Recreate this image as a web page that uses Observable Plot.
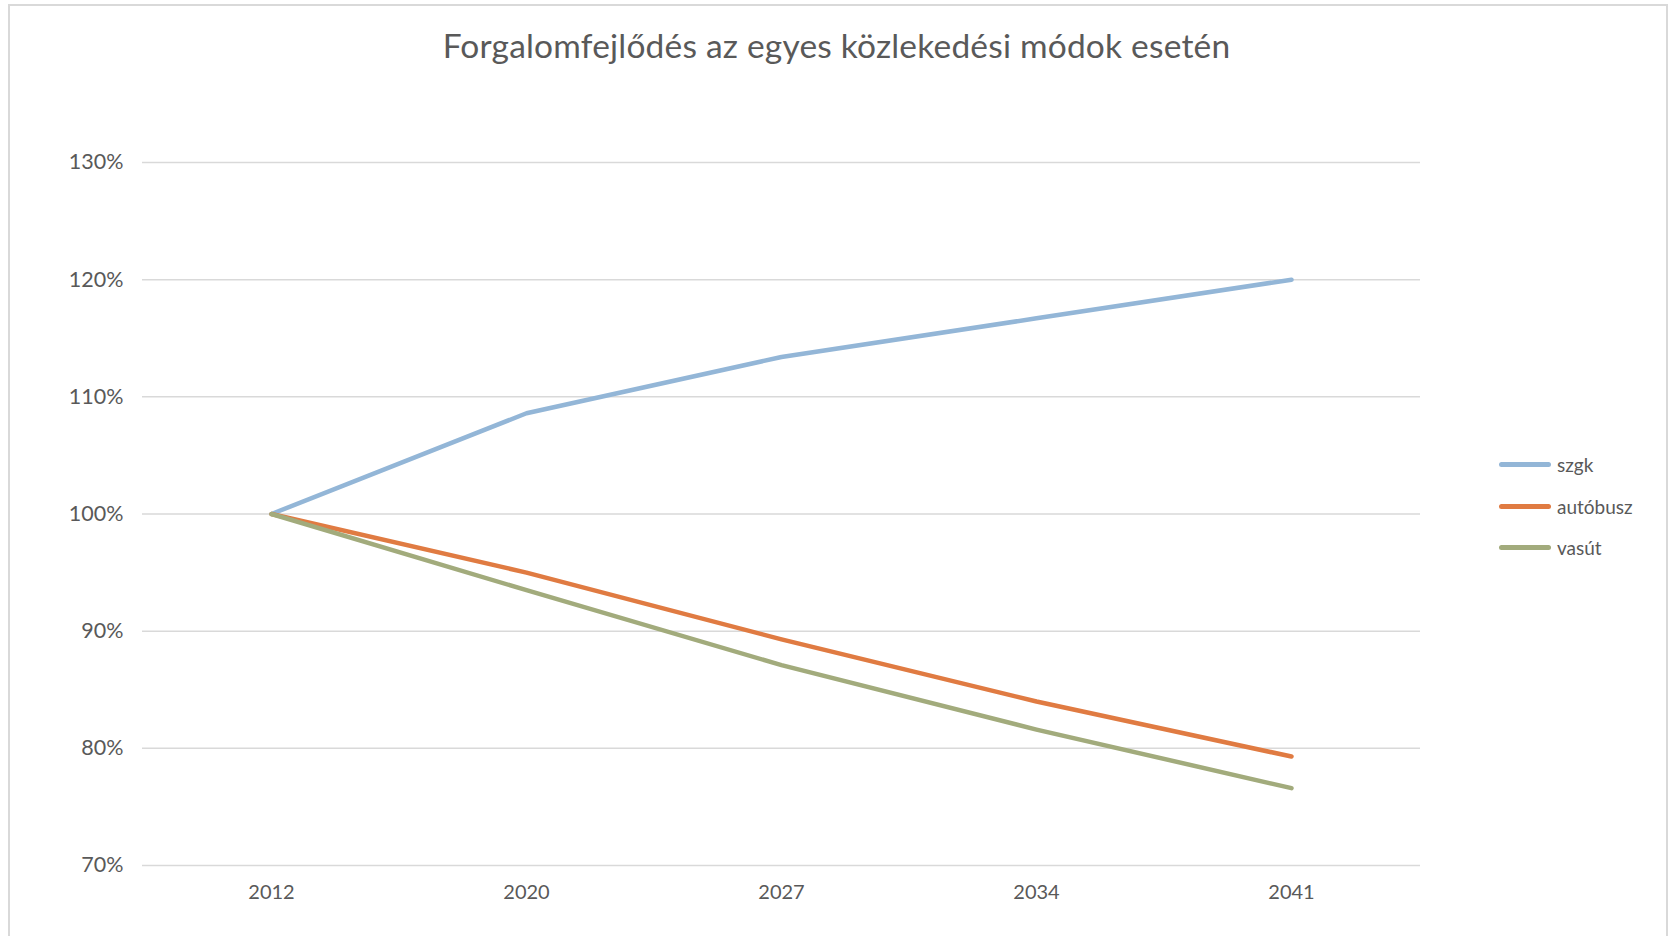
<!DOCTYPE html>
<html>
<head>
<meta charset="utf-8">
<script src="https://cdn.jsdelivr.net/npm/d3@7"></script>
<script src="https://cdn.jsdelivr.net/npm/@observablehq/plot@0.6"></script>
<style>
  html, body { margin: 0; padding: 0; background: #fff; }
  body { width: 1673px; height: 936px; overflow: hidden; position: relative; font-family: Lato, "Open Sans", sans-serif; }
  #frame { position: absolute; left: 8px; top: 4px; width: 1660px; height: 1000px; border: 2px solid #D9D9D9; box-sizing: border-box; }
  #title { position: absolute; left: 0; top: 25px; width: 1673px; text-align: center; font-size: 33.5px; color: #595959; letter-spacing: 0.2px; }
  #chart { position: absolute; left: 0; top: 100px; }
  #legend { position: absolute; left: 1499px; top: 444px; font-size: 19px; color: #595959; }
  .item { display: flex; align-items: center; height: 41.5px; }
  .sw { width: 52px; height: 5px; border-radius: 3px; margin-right: 6px; }
</style>
</head>
<body>
<div id="frame"></div>
<div id="title">Forgalomfejlődés az egyes közlekedési módok esetén</div>
<div id="chart"></div>
<div id="legend"></div>
<script>
const years = ["2012", "2020", "2027", "2034", "2041"];
const szgk = [100, 108.6, 113.4, 116.7, 120.0];
const autobusz = [100, 95.0, 89.3, 84.0, 79.3];
const vasut = [100, 93.5, 87.1, 81.6, 76.6];
const seriesNames = ["szgk", "autóbusz", "vasút"];
const seriesColors = ["#93B6D7", "#E07B42", "#A2AB7C"];
const yTicks = [70, 80, 90, 100, 110, 120, 130];

const seriesValues = [szgk, autobusz, vasut];
const data = [];
seriesNames.forEach((name, i) => {
  years.forEach((yr, j) => data.push({series: name, year: yr, value: seriesValues[i][j]}));
});

const chart = Plot.plot({
  width: 1673,
  height: 836,
  marginLeft: 142,
  marginRight: 253,
  marginTop: 62,
  marginBottom: 71,
  style: {fontFamily: "Lato, 'Open Sans', sans-serif", color: "#595959", background: "transparent"},
  x: {type: "point", domain: years, padding: 0.5, label: null},
  y: {domain: [70, 130], ticks: yTicks, label: null},
  color: {domain: seriesNames, range: seriesColors},
  marks: [
    Plot.ruleY(yTicks, {stroke: "#D9D9D9", strokeWidth: 1.5}),
    Plot.axisY({ticks: yTicks, tickSize: 0, tickPadding: 19, tickFormat: d => d + "%", fontSize: 21.5, fill: "#595959", label: null}),
    Plot.axisX({tickSize: 0, tickPadding: 19, fontSize: 20, fill: "#595959", label: null}),
    Plot.line(data, {x: "year", y: "value", z: "series", stroke: "series", strokeWidth: 4.5, strokeLinecap: "round", strokeLinejoin: "round"})
  ]
});
document.getElementById("chart").appendChild(chart);

const legend = document.getElementById("legend");
seriesNames.forEach((name, i) => {
  const item = document.createElement("div");
  item.className = "item";
  const sw = document.createElement("div");
  sw.className = "sw";
  sw.style.background = seriesColors[i];
  const lab = document.createElement("span");
  lab.textContent = name;
  item.appendChild(sw);
  item.appendChild(lab);
  legend.appendChild(item);
});
</script>
</body>
</html>
